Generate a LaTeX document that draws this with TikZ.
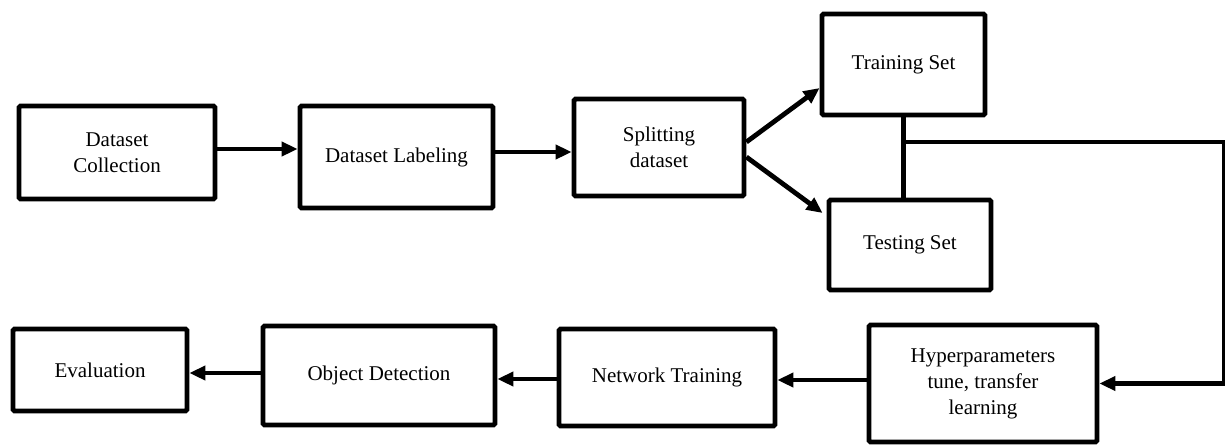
\documentclass[tikz,border=0pt]{standalone}
\usepackage{fontspec}
\newfontfamily\diagfont{Liberation Serif}
\usetikzlibrary{arrows.meta}
\tikzset{box/.style={draw, line width=2.4pt, inner sep=0pt, align=center,
   rounded corners=0.8pt, font=\diagfont\fontsize{10.5}{13}\selectfont},
 arr/.style={line width=2.4pt, -{Triangle[length=8pt,width=7pt]}},
 link/.style={line width=2.4pt},
 }

\begin{document}
\begin{tikzpicture}[x=0.5pt,y=-0.5pt]
        \useasboundingbox (0,0) rectangle (1225,445);
        % top row
        \node[box, minimum width=98pt, minimum height=46.5pt] (coll) at (117,152.5) {Dataset\\Collection};
        \node[box, minimum width=96.5pt, minimum height=51pt] (label) at (396.5,157) {Dataset Labeling};
        \node[box, minimum width=85pt, minimum height=48.5pt] (split) at (659,147.5) {Splitting\\dataset};
        \node[box, minimum width=81.5pt, minimum height=50.5pt] (train) at (903.5,64.5) {Training Set};
        \node[box, minimum width=81pt, minimum height=45pt] (test) at (910,245) {Testing Set};
        % bottom row
        \node[box, minimum width=114pt, minimum height=58.5pt] (hyper) at (983,383.5) {Hyperparameters\\tune, transfer\\learning};
        \node[box, minimum width=108pt, minimum height=48.5pt] (nt) at (667,377.5) {Network Training};
        \node[box, minimum width=116pt, minimum height=49.5pt] (od) at (379,375.5) {Object Detection};
        \node[box, minimum width=87pt, minimum height=41pt] (eval) at (100,370) {Evaluation};
        \coordinate (junc) at (903,142);
        \coordinate (corner) at (1224.5,142);
        % connectors
        \draw[arr] ([yshift=1.75pt]coll.east) -- ([yshift=1.75pt]coll.east -| label.west);
        \draw[arr] ([yshift=2.5pt]label.east) -- ([yshift=2.5pt]label.east -| split.west);
        \draw[arr] ([yshift=2.75pt]split.east) -- ([yshift=-11.75pt]train.west);
        \draw[arr] ([yshift=-4.75pt]split.east) -- ([xshift=-2pt,yshift=16pt]test.west);
        \draw[link] (train.south) -- (train.south |- test.north);
        \draw[arr] (junc) -- (corner) |- (hyper.east);
        \draw[arr] ([yshift=1.75pt]hyper.west) -- ([yshift=1.75pt]hyper.west -| nt.east);
        \draw[arr] ([yshift=-0.75pt]nt.west) -- ([yshift=-0.75pt]nt.west -| od.east);
        \draw[arr] ([yshift=1.25pt]od.west) -- ([yshift=1.25pt]od.west -| eval.east);
    \end{tikzpicture}
\end{document}
